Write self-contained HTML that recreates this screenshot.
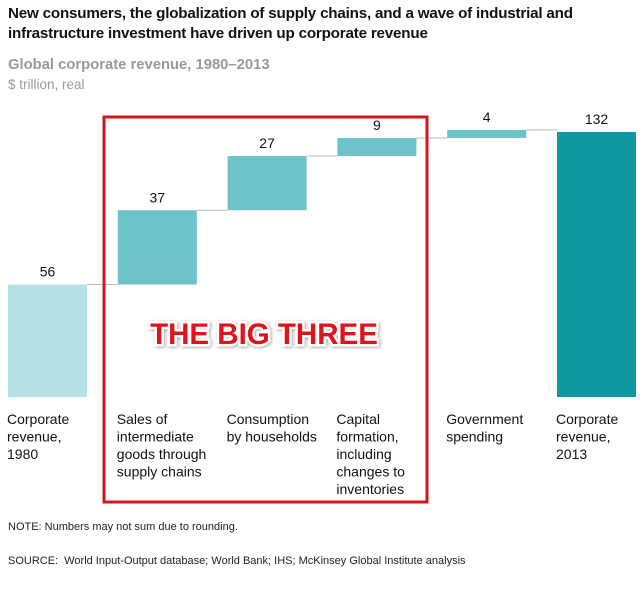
<!DOCTYPE html>
<html><head><meta charset="utf-8"><style>
body{margin:0;background:#fff;font-family:"Liberation Sans",Arial,sans-serif;}
#wrap{position:relative;width:640px;height:591px;overflow:hidden;}
.t{position:absolute;left:8px;}
</style></head><body>
<div id="wrap">
<div class="t" style="top:4px;font-weight:bold;font-size:15.2px;line-height:19.5px;color:#111;letter-spacing:-0.2px">New consumers, the globalization of supply chains, and a wave of industrial and<br>infrastructure investment have driven up corporate revenue</div>
<div class="t" style="top:57px;font-weight:bold;font-size:14.8px;color:#999">Global corporate revenue, 1980–2013</div>
<div class="t" style="top:77px;font-size:13.5px;color:#999">$ trillion, real</div>
<svg id="c" width="640" height="591" style="position:absolute;left:0;top:0"></svg>
<div class="t" style="top:521px;font-size:11px;color:#222">NOTE: Numbers may not sum due to rounding.</div>
<div class="t" style="top:555px;font-size:11px;color:#222">SOURCE:&nbsp; World Input-Output database; World Bank; IHS; McKinsey Global Institute analysis</div>
</div>
<script>
const categories=[["Corporate","revenue,","1980"],["Sales of","intermediate","goods through","supply chains"],["Consumption","by households"],["Capital","formation,","including","changes to","inventories"],["Government","spending"],["Corporate","revenue,","2013"]];
const values=[56,37,27,9,4,132];
const kinds=["total","step","step","step","step","total"];
const svg=document.getElementById('c');
const NS='http://www.w3.org/2000/svg';
const base=397, ppu=2.008;
function y(v){return base-v*ppu;}
function xb(i){return 8+i*109.8;}
const bw=79;
const colors={first:"#b4e2e6",step:"#6dc3c9",last:"#0d999f"};
function mk(t,a){const e=document.createElementNS(NS,t);for(const k in a)e.setAttribute(k,a[k]);svg.appendChild(e);return e;}
let cum=0;
for(let i=0;i<values.length;i++){
  let lo,hi,col;
  if(kinds[i]==="total"){lo=0;hi=values[i];col=i===0?colors.first:colors.last;}
  else{lo=cum;hi=cum+values[i];col=colors.step;}
  cum=hi;
  const r=mk('rect',{x:xb(i),y:y(hi),width:bw,height:y(lo)-y(hi),fill:col});
  
  
  if(i<values.length-1){
    const l=mk('line',{x1:xb(i)+bw,x2:xb(i+1),y1:y(hi),y2:y(hi),stroke:"#bbb","stroke-width":1});
    
    
  }
  const tv=mk('text',{x:xb(i)+bw/2,y:y(hi)-8,"text-anchor":"middle","font-size":14,fill:"#111","font-family":"Liberation Sans, Arial, sans-serif"});
  tv.textContent=values[i];
  
  
  const tc=mk('text',{x:xb(i)-1,y:424,"font-size":14,fill:"#111","font-family":"Liberation Sans, Arial, sans-serif"});
  
  
  categories[i].forEach((s,j)=>{const ts=document.createElementNS(NS,'tspan');ts.setAttribute('x',xb(i)-1);ts.setAttribute('dy',j?17.5:0);ts.textContent=s;tc.appendChild(ts);});
}
const box=mk('rect',{x:104,y:117,width:323,height:385,fill:"none",stroke:"#d3161c","stroke-width":3});


const bt=mk('text',{x:264,y:344,"text-anchor":"middle","font-size":29.5,"font-weight":"bold",fill:"#e0121a",stroke:"#fff","stroke-width":5,"paint-order":"stroke","font-family":"Liberation Sans, Arial, sans-serif",style:"filter:drop-shadow(1px 1px 1.5px rgba(0,0,0,0.35))"});
bt.textContent="THE BIG THREE";


</script>
</body></html>
